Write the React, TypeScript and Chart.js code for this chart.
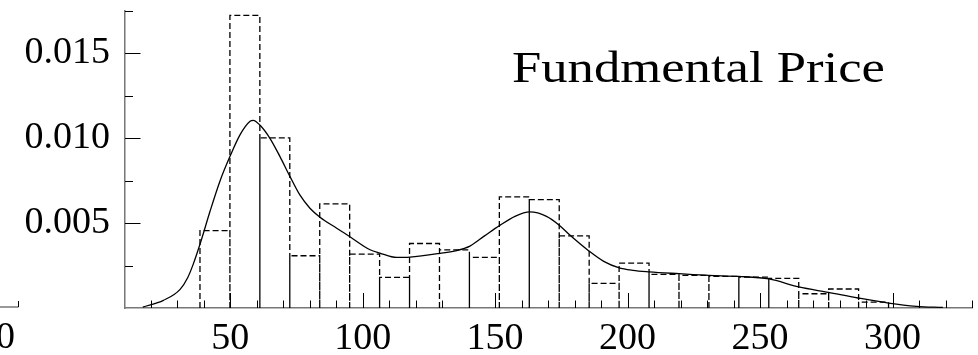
import React, { useEffect, useRef } from 'react';
import { Chart, registerables } from 'chart.js';

Chart.register(...registerables);

// Histogram bins (x edges) and densities
const binEdges = [38.6, 49.9, 61.2, 72.5, 83.8, 95.1, 106.4, 117.7, 129.0, 140.3, 151.6, 162.9, 174.2, 185.5, 196.8, 208.1, 219.4, 230.7, 242.0, 253.3, 264.6, 275.9, 287.2, 298.5];
const binHeights = [0.00456, 0.01724, 0.01002, 0.00308, 0.00614, 0.00318, 0.0018, 0.0038, 0.00343, 0.00298, 0.00655, 0.00639, 0.00425, 0.00145, 0.00265, 0.00198, 0.00192, 0.00186, 0.00182, 0.00174, 0.00084, 0.00112, 0.00035];

// Smooth density curve
const kdeX = [17, 24.8, 31.1, 34, 36.1, 38.9, 42.4, 46.2, 49.9, 53.7, 57.5, 58.7, 61.2, 65.0, 68.8, 72.6, 76.3, 80.1, 83.9, 90.2, 95.2, 102.8, 106.5, 112.8, 117.8, 129.2, 135, 140.5, 146, 151.8, 157.5, 163.1, 169.4, 174.2, 178.2, 185.5, 191, 196.6, 202, 208.2, 219.5, 230.7, 242.0, 253.4, 264.6, 275.8, 287.0, 298.5, 309, 319];
const kdeY = [0.00005, 0.00045, 0.0011, 0.0018, 0.0026, 0.0039, 0.0057, 0.0075, 0.00892, 0.0102, 0.0110, 0.01106, 0.01078, 0.0100, 0.00892, 0.00774, 0.00666, 0.00588, 0.00535, 0.0047, 0.0042, 0.00343, 0.00324, 0.00298, 0.0030, 0.00322, 0.00337, 0.00365, 0.00425, 0.00487, 0.0054, 0.00566, 0.0054, 0.00488, 0.0043, 0.00335, 0.00275, 0.00238, 0.00222, 0.00213, 0.00202, 0.00192, 0.00186, 0.00171, 0.00124, 0.00092, 0.00059, 0.00029, 0.0001, 0.00003];

const xLabelValues = [50, 100, 150, 200, 250, 300];
const yLabelValues = [0.005, 0.010, 0.015];
const xMin = 10.3;
const xMax = 330;
const yMax = 0.0175;
const xMinorStep = 10;
const xMajorStep = 50;
const yMinorStep = 0.0025;
const yMajorStep = 0.005;

const titleText = 'Fundmental Price';
const strayLabel = '0';

const FONT = '"Liberation Serif", "Times New Roman", serif';

function buildHistogramPoints() {
  const pts: any[] = [];
  for (let i = 0; i < binHeights.length; i++) {
    const a = binEdges[i];
    const b = binEdges[i + 1];
    const h = binHeights[i];
    pts.push({ x: a, y: 0 }, { x: a, y: h }, { x: b, y: h }, { x: b, y: 0 });
    if (i < binHeights.length - 1) pts.push({ x: b, y: null });
  }
  return pts;
}

const decorPlugin = {
  id: 'decor',
  afterDraw(chart: any) {
    const ctx = chart.ctx as CanvasRenderingContext2D;
    const xs = chart.scales.x;
    const ys = chart.scales.y;
    const yAxis = chart.chartArea.bottom;
    const xAxis = chart.chartArea.left;
    ctx.save();
    ctx.strokeStyle = '#000';
    ctx.lineWidth = 1;
    ctx.beginPath();
    // x ticks (inward)
    for (let v = 20; v <= xMax + 0.01; v += xMinorStep) {
      const p = Math.round(xs.getPixelForValue(v)) + 0.5;
      const len = Math.abs(v % xMajorStep) < 1e-6 ? 15 : 7.5;
      ctx.moveTo(p, yAxis);
      ctx.lineTo(p, yAxis - len);
    }
    // y ticks (inward)
    for (let k = 1; k * yMinorStep <= yMax + 1e-9; k++) {
      const v = k * yMinorStep;
      const p = Math.round(ys.getPixelForValue(v)) + 0.5;
      const major = k % Math.round(yMajorStep / yMinorStep) === 0;
      const len = major ? 15.5 : 8;
      ctx.moveTo(xAxis, p);
      ctx.lineTo(xAxis + len, p);
    }
    ctx.stroke();

    // stray axis fragment at far left
    ctx.strokeStyle = '#777';
    ctx.lineWidth = 1.5;
    ctx.beginPath();
    ctx.moveTo(0, yAxis - 1);
    ctx.lineTo(18.5, yAxis - 1);
    ctx.stroke();
    ctx.strokeStyle = '#000';
    ctx.lineWidth = 1;
    ctx.beginPath();
    ctx.moveTo(18.5, yAxis - 1);
    ctx.lineTo(18.5, yAxis - 7);
    ctx.stroke();

    ctx.fillStyle = '#000';
    ctx.font = `38px ${FONT}`;
    ctx.textAlign = 'right';
    ctx.textBaseline = 'alphabetic';
    ctx.fillText(strayLabel, 15, 348);

    // title
    ctx.font = `45px ${FONT}`;
    ctx.textAlign = 'left';
    ctx.translate(512, 81.7);
    ctx.scale(1.17, 1);
    ctx.fillText(titleText, 0, 0);
    ctx.restore();
  },
};

export default function App() {
  const ref = useRef<HTMLCanvasElement | null>(null);
  useEffect(() => {
    if (!ref.current) return;
    const chart = new Chart(ref.current, {
      type: 'line',
      data: {
        datasets: [
          {
            label: 'hist',
            data: buildHistogramPoints(),
            borderColor: '#000',
            borderWidth: 1.3,
            borderDash: [6, 3],
            pointRadius: 0,
            tension: 0,
            spanGaps: false,
            fill: false,
          },
          {
            label: 'density',
            data: kdeX.map((x, i) => ({ x, y: kdeY[i] })),
            borderColor: '#000',
            borderWidth: 1.3,
            pointRadius: 0,
            cubicInterpolationMode: 'monotone',
            fill: false,
          },
        ],
      },
      options: {
        responsive: false,
        animation: false,
        events: [],
        layout: { padding: { left: 0, right: 6, top: 11, bottom: 0 } },
        plugins: { legend: { display: false }, tooltip: { enabled: false }, title: { display: false } },
        scales: {
          x: {
            type: 'linear',
            min: xMin,
            max: xMax,
            grid: { display: false, drawTicks: false },
            border: { display: true, color: '#777', width: 1.5 },
            afterBuildTicks: (s: any) => { s.ticks = xLabelValues.map((v) => ({ value: v })); },
            afterFit: (s: any) => { s.height = 47; s.paddingLeft = 0; s.paddingRight = 0; },
            ticks: {
              autoSkip: false,
              maxRotation: 0,
              padding: 8,
              color: '#000',
              font: { family: FONT, size: 38 },
              callback: (v: any) => String(v),
            },
          },
          y: {
            type: 'linear',
            min: 0,
            max: yMax,
            grid: { display: false, drawTicks: false },
            border: { display: true, color: '#777', width: 1.5 },
            afterBuildTicks: (s: any) => { s.ticks = yLabelValues.map((v) => ({ value: v })); },
            afterFit: (s: any) => { s.width = 125; s.paddingTop = 0; s.paddingBottom = 0; },
            ticks: {
              padding: 15,
              color: '#000',
              font: { family: FONT, size: 38 },
              callback: (v: any) => Number(v).toFixed(3),
            },
          },
        },
      },
      plugins: [decorPlugin],
    });
    return () => chart.destroy();
  }, []);
  return (
    <div style={{ position: 'absolute', left: 0, top: 0, width: 978, height: 355, background: '#fff' }}>
      <canvas ref={ref} width={978} height={355} style={{ display: 'block' }} />
    </div>
  );
}
